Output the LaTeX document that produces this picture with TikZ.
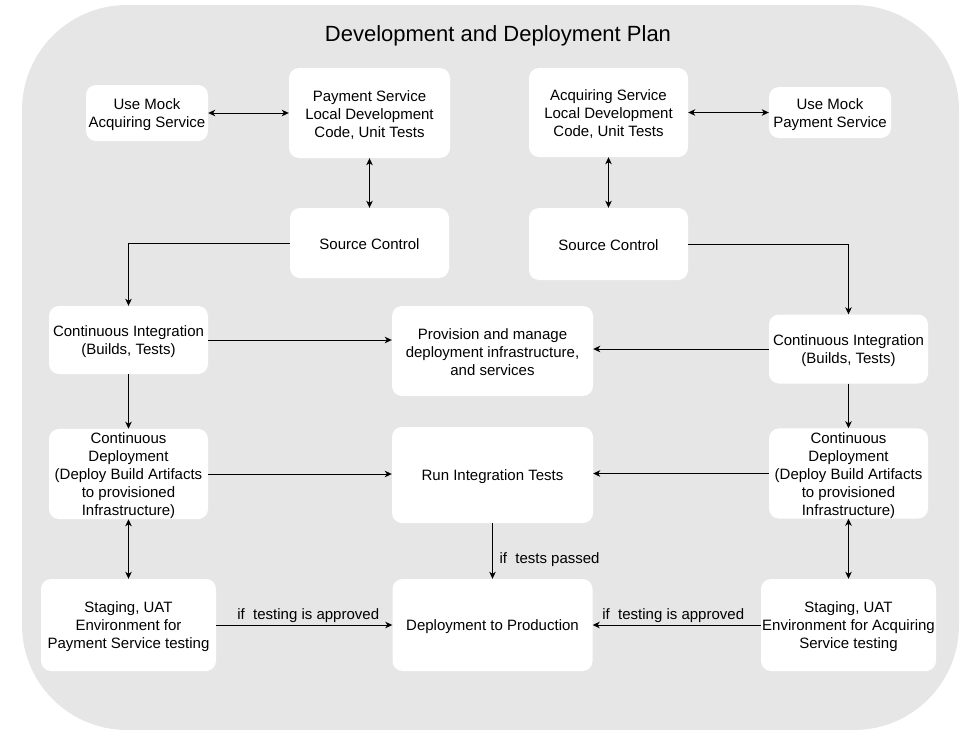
\documentclass[tikz,border=0pt]{standalone}
\usepackage{fontspec}
\setmainfont{Liberation Sans}
\usetikzlibrary{arrows.meta}
\definecolor{bggray}{HTML}{E6E6E6}
\newcommand{\topstrut}{\rule{0pt}{15pt}}
\newcommand{\botstrut}{\rule[-3pt]{0pt}{3pt}}
\tikzset{
  box/.style={fill=white, rounded corners=10pt, inner sep=0pt, align=center,
    font=\fontsize{15pt}{18pt}\selectfont, text=black},
  conn/.style={line width=1pt, draw=black, -{Stealth[length=7pt,width=6.5pt,inset=2pt]}},
  bconn/.style={line width=1pt, draw=black, {Stealth[length=7pt,width=6.5pt,inset=2pt]}-{Stealth[length=7pt,width=6.5pt,inset=2pt]}},
  lbl/.style={font=\fontsize{15pt}{18pt}\selectfont, inner sep=0pt, text=black}
}
\begin{document}
\begin{tikzpicture}[x=1pt,y=-1pt]
\useasboundingbox (0,0) rectangle (972,739);
\fill[bggray, rounded corners=105pt] (22,5) rectangle (959,730);
\node[font=\fontsize{22pt}{26pt}\selectfont, anchor=base, inner sep=0pt] (title) at (498,41) {Development and Deployment Plan};

\node[box, minimum width=122pt, minimum height=56pt] (mockA) at (147,113) {\topstrut Use Mock\\Acquiring Service\botstrut};
\node[box, minimum width=161pt, minimum height=90pt] (payL) at (369.5,113) {\topstrut Payment Service\\Local Development\\Code, Unit Tests\botstrut};
\node[box, minimum width=159pt, minimum height=70pt] (scL) at (369.5,243) {\topstrut Source Control\botstrut};
\node[box, minimum width=159pt, minimum height=89pt] (acqL) at (608.5,112.5) {\topstrut Acquiring Service\\Local Development\\Code, Unit Tests\botstrut};
\node[box, minimum width=122pt, minimum height=51pt] (mockP) at (830,112.5) {\topstrut Use Mock\\Payment Service\botstrut};
\node[box, minimum width=159pt, minimum height=72pt] (scR) at (608.5,244) {\topstrut Source Control\botstrut};

\node[box, minimum width=159pt, minimum height=68pt] (ciL) at (128.5,340) {\topstrut Continuous Integration\\(Builds, Tests)\botstrut};
\node[box, minimum width=201pt, minimum height=90pt] (prov) at (492.5,351) {\topstrut Provision and manage\\deployment infrastructure,\\and services\botstrut};
\node[box, minimum width=159pt, minimum height=69pt] (ciR) at (848.5,349) {\topstrut Continuous Integration\\(Builds, Tests)\botstrut};

\node[box, minimum width=159pt, minimum height=90pt] (cdL) at (128.5,474) {\topstrut Continuous\\Deployment\\(Deploy Build Artifacts\\to provisioned\\Infrastructure)\botstrut};
\node[box, minimum width=201pt, minimum height=96pt] (rit) at (492.5,475) {\topstrut Run Integration Tests\botstrut};
\node[box, minimum width=159pt, minimum height=90pt] (cdR) at (848.5,473.5) {\topstrut Continuous\\Deployment\\(Deploy Build Artifacts\\to provisioned\\Infrastructure)\botstrut};

\node[box, minimum width=175pt, minimum height=92pt] (stL) at (128.5,625) {\topstrut Staging, UAT\\Environment for\\Payment Service testing\botstrut};
\node[box, minimum width=200pt, minimum height=92pt] (dp) at (492.5,625) {\topstrut Deployment to Production\botstrut};
\node[box, minimum width=175pt, minimum height=92pt] (stR) at (848.5,625) {\topstrut Staging, UAT\\Environment for Acquiring\\Service testing\botstrut};

\draw[bconn] (mockA.east) -- (payL.west);
\draw[bconn] (payL.south) -- (scL.north);
\draw[bconn] (acqL.east) -- (mockP.west);
\draw[bconn] (acqL.south) -- (scR.north);
\draw[conn] (scL.west) -| (ciL.north);
\draw[conn] (scR.east) -| (ciR.north);
\draw[conn] (ciL.east) -- (ciL.east -| prov.west);
\draw[conn] (ciR.west) -- (ciR.west -| prov.east);
\draw[conn] (ciL.south) -- (cdL.north);
\draw[conn] (ciR.south) -- (cdR.north);
\draw[conn] (cdL.east) -- (cdL.east -| rit.west);
\draw[conn] (cdR.west) -- (cdR.west -| rit.east);
\draw[bconn] (cdL.south) -- (stL.north);
\draw[bconn] (cdR.south) -- (stR.north);
\draw[conn] (rit.south) -- node[lbl, pos=0.73, anchor=base west, xshift=6.5pt] (lblT) {if\ \ tests passed} (rit.south |- dp.north);
\draw[conn] (stL.east) -- node[lbl, midway, anchor=base, yshift=6pt, xshift=4pt] (lblL) {if\ \ testing is approved} (dp.west);
\draw[conn] (stR.west) -- node[lbl, midway, anchor=base, yshift=6pt, xshift=-3.5pt] (lblR) {if\ \ testing is approved} (dp.east);
\end{tikzpicture}
\end{document}
